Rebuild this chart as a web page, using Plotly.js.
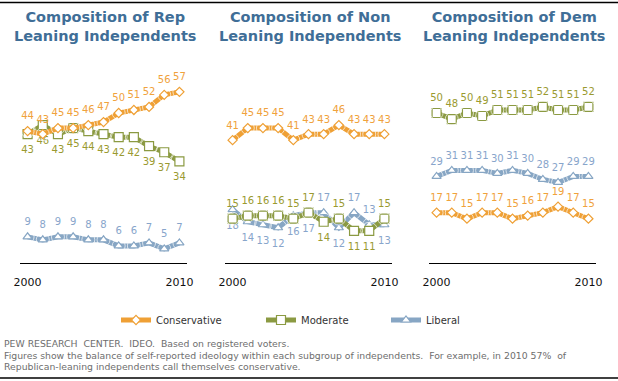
<!DOCTYPE html>
<html>
<head>
<meta charset="utf-8">
<script src="https://cdn.plot.ly/plotly-3.0.1.min.js"></script>
<style>html,body{margin:0;padding:0;background:#fff;}#chart{width:618px;height:381px;}</style>
</head>
<body>
<div id="chart"></div>
<script>
// ---- data ----
const years = [2000, 2001, 2002, 2003, 2004, 2005, 2006, 2007, 2008, 2009, 2010];
const tickYears = [2000, 2010];
const panelTitles = [
  "Composition of Rep<br>Leaning Independents",
  "Composition of Non<br>Leaning Independents",
  "Composition of Dem<br>Leaning Independents"
];
const seriesNames = ["Conservative", "Moderate", "Liberal"];
// Republican-leaning
const repConservative = [44, 43, 45, 45, 46, 47, 50, 51, 52, 56, 57];
const repModerate     = [43, 46, 43, 45, 44, 43, 42, 42, 39, 37, 34];
const repLiberal      = [9, 8, 9, 9, 8, 8, 6, 6, 7, 5, 7];
// Non-leaning
const nonConservative = [41, 45, 45, 45, 41, 43, 43, 46, 43, 43, 43];
const nonModerate     = [15, 16, 16, 16, 15, 17, 14, 15, 11, 11, 15];
const nonLiberal      = [18, 14, 13, 12, 16, 17, 17, 12, 17, 13, 13];
// Democratic-leaning
const demConservative = [17, 17, 15, 17, 17, 15, 16, 17, 19, 17, 15];
const demModerate     = [50, 48, 50, 49, 51, 51, 51, 52, 51, 51, 52];
const demLiberal      = [29, 31, 31, 31, 30, 31, 30, 28, 27, 29, 29];
const footnotes = [
  "PEW RESEARCH\u00a0 CENTER.\u00a0 IDEO.\u00a0 Based on registered voters.",
  "Figures show the balance of self-reported ideology within each subgroup of independents.\u00a0 For example, in 2010 57%\u00a0 of",
  "Republican-leaning independents call themselves conservative."
];

// ---- styles ----
const W = 618, H = 381;
const FONT = "DejaVu Sans, Verdana, sans-serif";
const styles = {
  Conservative: {line: "#efa035", label: "#f0a23c", symbol: "diamond", size: 7},
  Moderate:     {line: "#8b9a42", label: "#9a9a30", symbol: "square", size: 9},
  Liberal:      {line: "#87a6c4", label: "#88a5cb", symbol: "triangle-up", size: 8}
};
const T = "top center", B = "bottom center";
const allTop = years.map(() => T);
const allBottom = years.map(() => B);
const panels = [
  {Conservative: [repConservative, allTop], Moderate: [repModerate, allBottom], Liberal: [repLiberal, allTop]},
  {Conservative: [nonConservative, allTop],
   Moderate: [nonModerate, [T,T,T,T,T,T,B,T,B,B,T]],
   Liberal: [nonLiberal, [B,B,B,B,B,B,T,B,T,T,B]]},
  {Conservative: [demConservative, allTop], Moderate: [demModerate, allTop], Liberal: [demLiberal, allTop]}
];
const xDomains = [[20/W, 187/W], [225/W, 392/W], [429/W, 596/W]];
const yDomain = [(H-262.5)/H, (H-52.6)/H];
const centers = [105, 310, 514];

const traces = [];
const legendIds = {Conservative: "legend", Moderate: "legend2", Liberal: "legend3"};
panels.forEach((p, i) => {
  const xa = i === 0 ? "x" : "x" + (i+1);
  const ya = i === 0 ? "y" : "y" + (i+1);
  const order = i === 2 ? ["Liberal", "Conservative", "Moderate"] : ["Liberal", "Moderate", "Conservative"];
  order.forEach(name => {
    const st = styles[name];
    const vals = p[name][0];
    const pos = p[name][1];
    traces.push({
      x: years, y: vals, xaxis: xa, yaxis: ya, type: "scatter", mode: "lines+markers",
      name: name, showlegend: i === 0, legend: legendIds[name],
      line: {color: st.line, width: 5},
      marker: {symbol: st.symbol, size: st.size, color: "#ffffff", line: {color: st.line, width: 1.2}},
      hoverinfo: "skip"
    });
    traces.push({
      x: years, y: vals, xaxis: xa, yaxis: ya, type: "scatter", mode: "text+markers",
      showlegend: false, text: vals.map(String), textposition: pos,
      textfont: {family: FONT, size: 10, color: st.label},
      marker: {size: pos.map(q => q === T ? 13 : 17), color: "rgba(0,0,0,0)"},
      cliponaxis: false, hoverinfo: "skip"
    });
  });
});

const layout = {
  width: W, height: H, margin: {l: 0, r: 0, t: 0, b: 0},
  paper_bgcolor: "#fff", plot_bgcolor: "rgba(0,0,0,0)",
  font: {family: FONT, color: "#222"},
  annotations: [], shapes: [
    {type: "line", xref: "paper", yref: "paper", x0: 0, x1: 1, y0: 1-2.5/H, y1: 1-2.5/H, line: {color: "#000", width: 1.5}},
    {type: "line", xref: "paper", yref: "paper", x0: 0, x1: 1, y0: 1-378/H, y1: 1-378/H, line: {color: "#000", width: 1.5}}
  ]
};
for (let i = 0; i < 3; i++) {
  const s = i === 0 ? "" : String(i+1);
  layout["xaxis" + s] = {
    domain: xDomains[i], range: [1999.5, 2010.5], anchor: "y" + s,
    showgrid: false, zeroline: false, showline: true, linecolor: "#000", linewidth: 1.5,
    tickvals: tickYears, ticktext: tickYears.map(String), ticks: "",
    ticklabelstandoff: 9, tickfont: {family: FONT, size: 11, color: "#111"}, fixedrange: true
  };
  layout["yaxis" + s] = {
    domain: yDomain, range: [0.5, 70], anchor: "x" + s,
    visible: false, showgrid: false, zeroline: false, fixedrange: true
  };
  layout.annotations.push({
    xref: "paper", yref: "paper", x: centers[i]/W, y: 1 - 27/H,
    xanchor: "center", yanchor: "middle", showarrow: false, align: "center",
    text: "<b>" + panelTitles[i].replace("<br>", "</b><br><b>") + "</b>",
    font: {family: FONT, size: 14.5, color: "#3f6e97"}
  });
}
footnotes.forEach((t, k) => {
  layout.annotations.push({
    xref: "paper", yref: "paper", x: 2/W, y: 1 - [343, 355, 366][k]/H,
    xanchor: "left", yanchor: "middle", showarrow: false, align: "left", text: t,
    font: {family: FONT, size: 9.3, color: "#6e6e6e"}
  });
});
const legendX = {legend: 116, legend2: 261, legend3: 386};
Object.keys(legendX).forEach(k => {
  layout[k] = {
    orientation: "h", x: legendX[k]/W, xanchor: "left", y: 1 - 320/H, yanchor: "middle",
    bgcolor: "rgba(0,0,0,0)", borderwidth: 0, itemwidth: 30,
    font: {family: FONT, size: 10, color: "#333"}
  };
});

Plotly.newPlot("chart", traces, layout, {staticPlot: true, displayModeBar: false});
</script>
</body>
</html>
